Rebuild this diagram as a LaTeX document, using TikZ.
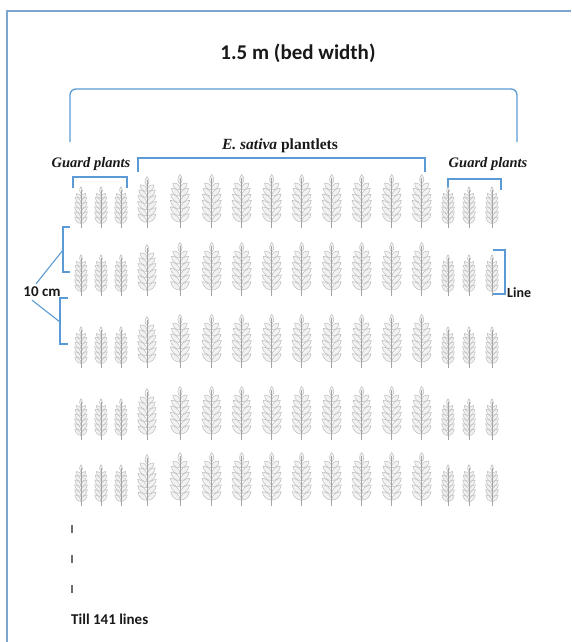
\documentclass[tikz,border=0pt]{standalone}
\usepackage{fontspec}
\setmainfont{Liberation Serif}
\newfontfamily\labelsans{Carlito}

\definecolor{framecol}{HTML}{7EA4D2}
\definecolor{bracketblue}{HTML}{5B9BD5}
\definecolor{stemgray}{HTML}{A4A4A4}
\definecolor{leafgray}{HTML}{BDBDBD}
\definecolor{leaffill}{HTML}{F2F2F2}
\definecolor{tickgray}{HTML}{6E6E6E}

% one stalk: stem with paired leaves, drawn upwards from its foot at (0,0)
\newcommand{\plantbody}{%
  \begin{scope}[x=1pt,y=1pt]
    \draw[stemline] (0,0) -- (0,48);
    \foreach \h/\l in {6/12.5,12.5/13,19/13,25.5/12.5,32/11.5,38.5/9.5} {
      \draw[leafline, shift={(0,\h)}, rotate=42]
        (0,0) .. controls (0.25*\l,3.3) and (0.7*\l,3.3) .. (\l,0)
              .. controls (0.7*\l,-3.3) and (0.25*\l,-3.3) .. cycle;
      \draw[leafline, shift={(0,\h)}, rotate=138]
        (0,0) .. controls (0.25*\l,3.3) and (0.7*\l,3.3) .. (\l,0)
              .. controls (0.7*\l,-3.3) and (0.25*\l,-3.3) .. cycle;
    }
    \draw[leafline, shift={(0,44)}, rotate=90]
      (0,0) .. controls (2.5,2.8) and (6,2.8) .. (9.5,0)
            .. controls (6,-2.8) and (2.5,-2.8) .. cycle;
    \draw[stemline] (0,4) -- (0,50);
  \end{scope}}

\tikzset{
  x=1pt, y=-1pt,
  bracketline/.style={draw=bracketblue, line width=1.3pt},
  framing/.style={draw=framecol, line width=1.3pt},
  stemline/.style={draw=stemgray, line width=0.55pt},
  leafline/.style={draw=leafgray, fill=leaffill, line width=0.5pt},
  sanslabel/.style={font=\labelsans\bfseries\fontsize{15}{18}\selectfont, text=black!90, inner sep=0pt},
  titlelabel/.style={font=\labelsans\bfseries\fontsize{21}{24}\selectfont, text=black!90, inner sep=0pt},
  seriflabel/.style={font=\bfseries\fontsize{14.5}{17}\selectfont, text=black!90, inner sep=0pt},
  dotmark/.style={draw=tickgray, line width=1.6pt},
}

\begin{document}
\begin{tikzpicture}
  \useasboundingbox (0,0) rectangle (571,642);
  \fill[white] (0,0) rectangle (571,642);

  % page frame (left and top edges)
  \draw[framing] (7,642) -- (7,11) -- (571,11);

  % bed width
  \node[titlelabel] (title) at (298,53) {1.5 m (bed width)};
  \draw[bracketline, rounded corners=6pt] (70,142) -- (70,89) -- (517,89) -- (517,142);

  % group labels and their brackets
  \node[seriflabel] (guardL) at (91,164) {\itshape Guard plants};
  \node[seriflabel, font=\bfseries\fontsize{15.5}{18}\selectfont] (sativa) at (280,146) {\itshape E. sativa\upshape\ plantlets};
  \node[seriflabel] (guardR) at (488,164) {\itshape Guard plants};
  \draw[bracketline] (73,188) -- (73,177) -- (127,177) -- (127,188);
  \draw[bracketline] (138,172) -- (138,158) -- (425,158) -- (425,172);
  \draw[bracketline] (448,190) -- (448,179) -- (501,179) -- (501,190);

  % plant rows
  \foreach \r in {228,296,368,440,506} {
    \foreach \c in {81,101,121,448,469,492} {
      \begin{scope}[shift={(\c,\r)}, xscale=0.66, yscale=0.77]
        \plantbody
      \end{scope}
    }
    \begin{scope}[shift={(147,\r)}, scale=0.96]
      \plantbody
    \end{scope}
    \foreach \c in {180,211.7,241.7,271.7,301.7,331.7,361.7,391.7,421.7} {
      \begin{scope}[shift={(\c,\r)}]
        \plantbody
      \end{scope}
    }
  }

  % row spacing
  \node[sanslabel] (tencm) at (42,292) {10 cm};
  \draw[bracketline] (70,227) -- (63,227) -- (63,272) -- (70,272);
  \draw[bracketline] (68,298) -- (60,298) -- (60,344) -- (68,344);
  \coordinate (upmid) at (63,250);
  \coordinate (lowmid) at (60,322);
  \draw[bracketline, line width=1.1pt] ([xshift=-6pt,yshift=3pt]tencm.north) -- (upmid);
  \draw[bracketline, line width=1.1pt] ([xshift=-10pt,yshift=-3pt]tencm.south) -- (lowmid);

  % one line
  \draw[bracketline] (493,250) -- (505,250) -- (505,294) -- (493,294);
  \node[sanslabel, font=\labelsans\bfseries\fontsize{14}{16}\selectfont, anchor=west] (linelab) at (507,293) {Line};

  % continuation
  \draw[dotmark] (72,525) -- (72,533);
  \draw[dotmark] (72,555) -- (72,563);
  \draw[dotmark] (72,585) -- (72,593);
  \node[sanslabel, anchor=west] (till) at (71,619) {Till 141 lines};
\end{tikzpicture}
\end{document}
